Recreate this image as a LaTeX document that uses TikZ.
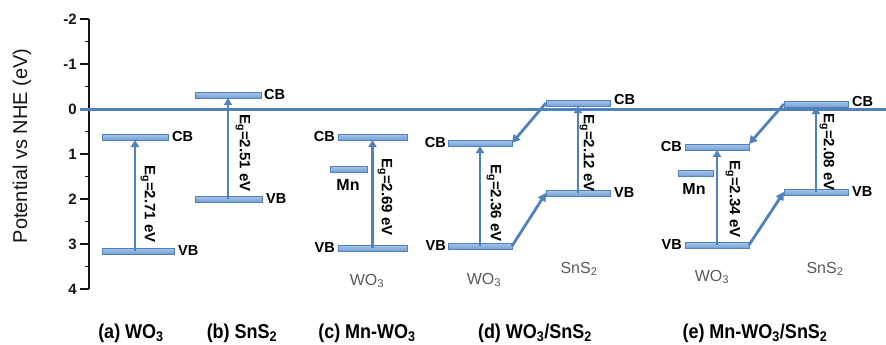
\documentclass[tikz,border=0pt]{standalone}
\usepackage{fontspec}
\setmainfont{Liberation Sans}
\newfontfamily\narrowsf[FakeStretch=0.9]{Liberation Sans}
\usetikzlibrary{arrows.meta}

\definecolor{bandline}{RGB}{79,129,189}
\definecolor{bandtop}{RGB}{168,198,236}
\definecolor{bandbot}{RGB}{118,160,214}
\definecolor{axisink}{RGB}{20,20,20}
\definecolor{subgray}{RGB}{89,89,89}

\tikzset{
  band/.style={rectangle, draw=bandline, line width=0.9pt, top color=bandtop, bottom color=bandbot,
               minimum height=6pt, inner sep=0pt, outer sep=0pt},
  lvl/.style={font=\bfseries\fontsize{14.5}{14.5}\selectfont, inner sep=0pt},
  mnlbl/.style={font=\bfseries\fontsize{16}{16}\selectfont, inner sep=0pt},
  gaplbl/.style={font=\bfseries\fontsize{15}{15}\selectfont, rotate=-90, inner sep=0pt},
  matlbl/.style={font=\fontsize{16}{16}\selectfont, text=subgray, inner sep=0pt},
  caption/.style={font=\narrowsf\bfseries\fontsize{20}{20}\selectfont, inner sep=0pt, anchor=base},
  ticklbl/.style={font=\bfseries\fontsize{15}{15}\selectfont, text=axisink, anchor=east, inner sep=0pt},
  excite/.style={draw=bandline, line width=2.8pt, -{Triangle[length=7pt,width=8pt]}},
  transfer/.style={draw=bandline, line width=2.8pt, -{Triangle[length=8pt,width=8.5pt]}},
  zeroline/.style={draw=bandline, line width=3pt},
  axisline/.style={draw=axisink, line width=1.8pt},
}

\begin{document}
\begin{tikzpicture}[x=1pt, y=-1pt]
\useasboundingbox (0,0) rectangle (886,345);

% potential axis
\node[font=\fontsize{20}{20}\selectfont, text=axisink, rotate=90, inner sep=0pt] (ylabel) at (22,146) {Potential vs NHE (eV)};
\coordinate (axtop) at (89,19);
\coordinate (axbot) at (89,289);
\draw[axisline] (axtop) -- (axbot);
\foreach \v/\y in {-2/19,-1/64,0/109,1/154,2/199,3/244,4/289}{
  \draw[axisline] (80,\y) -- (89,\y);
  \node[ticklbl] (tick\v) at (77,\y) {\v};
}
\foreach \y in {41.5,86.5,131.5,176.5,221.5,266.5}{
  \draw[axisline, line width=1.4pt] (84.5,\y) -- (89,\y);
}

% zero-potential reference line
\coordinate (zl) at (80,109.5);
\coordinate (zr) at (886,109.5);
\draw[zeroline] (zl) -- (zr);

% (a) WO3
\node[band, minimum width=66pt] (aCB) at (135,137) {};
\node[band, minimum width=72pt] (aVB) at (138,251) {};
\node[lvl, anchor=west] (aCBt) at (172,137) {CB};
\node[lvl, anchor=west] (aVBt) at (178,251) {VB};
\draw[excite] (aCB.south |- aVB.center) -- (aCB.south);
\node[gaplbl] (aEg) at (148,204) {E\textsubscript{g}=2.71 eV};

% (b) SnS2
\node[band, minimum width=66pt] (bCB) at (228,95) {};
\node[band, minimum width=67pt] (bVB) at (228.5,199) {};
\node[lvl, anchor=west] (bCBt) at (264,95) {CB};
\node[lvl, anchor=west] (bVBt) at (266,199) {VB};
\draw[excite] (bCB.south |- bVB.center) -- (bCB.south);
\node[gaplbl] (bEg) at (243,153) {E\textsubscript{g}=2.51 eV};

% (c) Mn-WO3
\node[band, minimum width=69pt] (cCB) at (372.5,137) {};
\node[band, minimum width=69pt] (cVB) at (372.5,248) {};
\node[band, minimum width=37pt] (cMn) at (348.5,169) {};
\node[lvl, anchor=east] (cCBt) at (335,137) {CB};
\node[lvl, anchor=east] (cVBt) at (335,248) {VB};
\node[mnlbl] (cMnt) at (348,185) {Mn};
\draw[excite] (cVB.center) -- (cCB.south);
\node[gaplbl] (cEg) at (385,197) {E\textsubscript{g}=2.69 eV};
\node[matlbl] (cW) at (367,281) {WO\textsubscript{3}};

% (d) WO3/SnS2
\node[band, minimum width=64pt] (dWCB) at (480,143) {};
\node[band, minimum width=64pt] (dWVB) at (480,246) {};
\node[band, minimum width=64pt] (dSCB) at (578,103) {};
\node[band, minimum width=64pt] (dSVB) at (578,193) {};
\node[lvl, anchor=east] (dWCBt) at (446,143) {CB};
\node[lvl, anchor=east] (dWVBt) at (446,246) {VB};
\node[lvl, anchor=west] (dSCBt) at (614,100) {CB};
\node[lvl, anchor=west] (dSVBt) at (614,193) {VB};
\draw[excite] (dWVB.center) -- (dWCB.south);
\draw[excite] (dSVB.center) -- (dSCB.south);
\draw[transfer] (dSCB.west) -- (dWCB.east);
\draw[transfer] (dWVB.east) -- (dSVB.west);
\node[gaplbl] (dWEg) at (494,203) {E\textsubscript{g}=2.36 eV};
\node[gaplbl] (dSEg) at (587,153) {E\textsubscript{g}=2.12 eV};
\node[matlbl] (dW) at (484,280) {WO\textsubscript{3}};
\node[matlbl] (dS) at (579,269) {SnS\textsubscript{2}};

% (e) Mn-WO3/SnS2
\node[band, minimum width=64pt] (eWCB) at (717,147) {};
\node[band, minimum width=64pt] (eWVB) at (717,245) {};
\node[band, minimum width=35pt] (eMn) at (695.5,173) {};
\node[band, minimum width=64pt] (eSCB) at (816,104) {};
\node[band, minimum width=64pt] (eSVB) at (816,192) {};
\node[lvl, anchor=east] (eWCBt) at (682,147) {CB};
\node[lvl, anchor=east] (eWVBt) at (682,245) {VB};
\node[lvl, anchor=west] (eSCBt) at (852,102) {CB};
\node[lvl, anchor=west] (eSVBt) at (852,192) {VB};
\node[mnlbl] (eMnt) at (694,189) {Mn};
\draw[excite] (eWVB.center) -- (eWCB.south);
\draw[excite] (eSVB.center) -- (eSCB.south);
\draw[transfer] (eSCB.west) -- (eWCB.north east);
\draw[transfer] (eWVB.east) -- (eSVB.west);
\node[gaplbl] (eWEg) at (733,199) {E\textsubscript{g}=2.34 eV};
\node[gaplbl] (eSEg) at (827,152) {E\textsubscript{g}=2.08 eV};
\node[matlbl] (eW) at (712,277) {WO\textsubscript{3}};
\node[matlbl] (eS) at (825,269) {SnS\textsubscript{2}};

% panel captions
\node[caption] (capa) at (131,338) {(a) WO\textsubscript{3}};
\node[caption] (capb) at (242,338) {(b) SnS\textsubscript{2}};
\node[caption] (capc) at (367,338) {(c) Mn-WO\textsubscript{3}};
\node[caption] (capd) at (535,338) {(d) WO\textsubscript{3}/SnS\textsubscript{2}};
\node[caption] (cape) at (755,338) {(e) Mn-WO\textsubscript{3}/SnS\textsubscript{2}};
\end{tikzpicture}
\end{document}
